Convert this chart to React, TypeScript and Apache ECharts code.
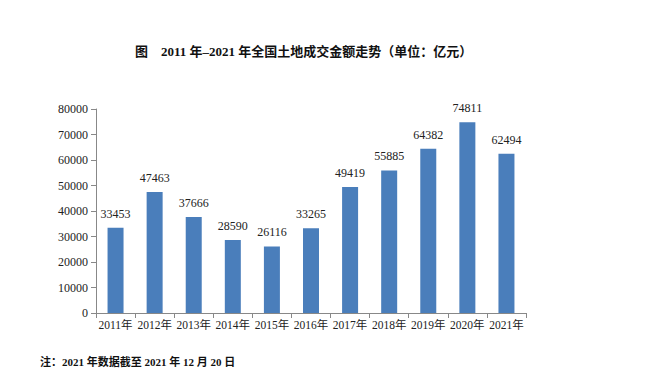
import React, { useEffect, useRef } from "react";
import * as echarts from "echarts";

const categories = ["2011年", "2012年", "2013年", "2014年", "2015年", "2016年", "2017年", "2018年", "2019年", "2020年", "2021年"];
const values = [33453, 47463, 37666, 28590, 26116, 33265, 49419, 55885, 64382, 74811, 62494];
const titleText = "图　2011 年–2021 年全国土地成交金额走势（单位：亿元）";
const noteText = "注：2021 年数据截至 2021 年 12 月 20 日";

export default function App() {
  const ref = useRef<HTMLDivElement>(null);
  useEffect(() => {
    const chart = echarts.init(ref.current!, null, { renderer: "svg" });
    const serif = "'Liberation Serif', 'Noto Sans CJK SC', serif";
    chart.setOption({
      animation: false,
      backgroundColor: "#ffffff",
      title: {
        text: titleText,
        left: 130,
        top: 40,
        textStyle: { fontFamily: serif, fontSize: 13, fontWeight: "bold", color: "#111" },
      },
      graphic: [
        {
          type: "text",
          left: 40,
          top: 356,
          style: { text: noteText, font: "bold 11px 'Liberation Serif', 'Noto Sans CJK SC', serif", fill: "#111" },
        },
      ],
      grid: { left: 96, right: 138, top: 109, bottom: 60 },
      xAxis: {
        type: "category",
        data: categories,
        axisLine: { lineStyle: { color: "#888" } },
        axisTick: { show: true, alignWithLabel: false, length: 5, lineStyle: { color: "#888" } },
        axisLabel: { fontFamily: serif, fontSize: 11.5, color: "#222", margin: 6, interval: 0 },
      },
      yAxis: {
        type: "value",
        min: 0,
        max: 80000,
        interval: 10000,
        axisLine: { show: true, lineStyle: { color: "#888" } },
        axisTick: { show: true, length: 5, lineStyle: { color: "#888" } },
        splitLine: { show: false },
        axisLabel: { fontFamily: serif, fontSize: 12, color: "#222", margin: 8, formatter: (v: number) => String(v) },
      },
      series: [
        {
          type: "bar",
          data: values,
          barWidth: 16,
          itemStyle: { color: "#4a7ebb" },
          label: {
            show: true,
            position: "top",
            distance: 8,
            fontFamily: serif,
            fontSize: 12,
            color: "#222",
          },
        },
      ],
    });
    return () => chart.dispose();
  }, []);
  return <div ref={ref} style={{ width: 664, height: 373, position: "absolute", left: 0, top: 0 }} />;
}
